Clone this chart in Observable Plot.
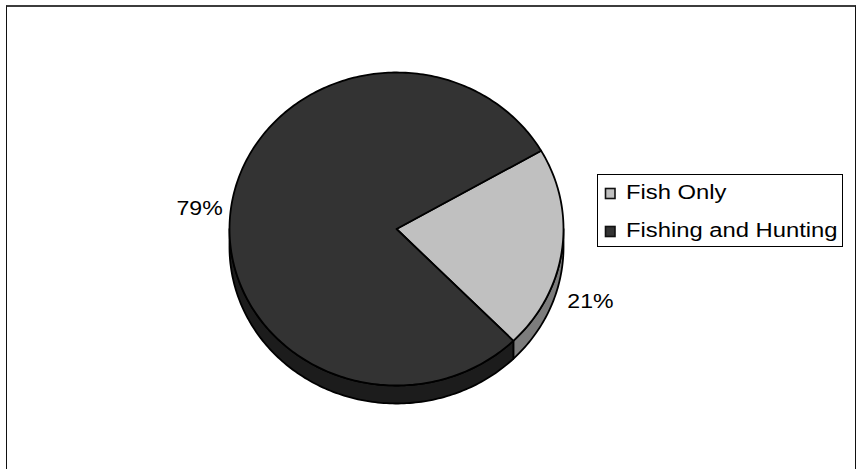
<!DOCTYPE html>
<html><head><meta charset="utf-8">
<script src="https://cdn.jsdelivr.net/npm/d3@7"></script>
<script src="https://cdn.jsdelivr.net/npm/@observablehq/plot@0.6"></script>
<style>
body{margin:0;background:#fff;font-family:"Liberation Sans",Arial,sans-serif;}
#wrap{position:relative;width:862px;height:469px;overflow:hidden;background:#fff;}
#chart{position:absolute;left:0;top:0;}
#frame{position:absolute;left:6px;top:5px;width:848px;height:520px;border-top:2px solid #3c3c3c;border-left:1.5px solid #111;border-right:1.5px solid #111;pointer-events:none;}
#legend{position:absolute;left:597px;top:174px;overflow:visible;}
</style></head><body>
<div id="wrap"><div id="chart"></div><div id="frame"></div><svg id="legend" width="250" height="78"></svg></div>
<script>
// ---- data ----
const categories = ["Fish Only", "Fishing and Hunting"];
const values = [21, 79];
const labels = ["21%", "79%"];
const topColors = ["#c0c0c0", "#333333"];
const sideColors = ["#7c7c7c", "#1c1c1c"];

// ---- geometry (pie plane units; radius 1) ----
const startAngle = 60;   // degrees clockwise from 12 o'clock
const depth = 0.115;     // thickness of the 3D pie in y units
const rad = d => d * Math.PI / 180;
const total = d3.sum(values);

const slices = [];
let a = startAngle;
values.forEach((v, i) => {
  const a1 = a + v / total * 360;
  slices.push({i, a0: a, a1, mid: (a + a1) / 2});
  a = a1;
});

const pt = (deg, r, h) => ({x: r * Math.sin(rad(deg)), y: r * Math.cos(rad(deg)) + h});
const arc = (from, to, h) => {
  const n = Math.max(2, Math.ceil(Math.abs(to - from)));
  return d3.range(n + 1).map(k => pt(from + (to - from) * k / n, 1, h));
};

const faces = [];
// side walls (front half: 90°..270°)
slices.forEach(s => {
  const lo = Math.max(s.a0, 90), hi = Math.min(s.a1, 270);
  if (hi > lo) {
    const pts = [...arc(lo, hi, 0), ...arc(hi, lo, -depth)];
    pts.push(pts[0]);
    pts.forEach(p => faces.push({...p, id: "side" + s.i, fill: sideColors[s.i]}));
  }
});
// top faces
slices.forEach(s => {
  const pts = [{x: 0, y: 0}, ...arc(s.a0, s.a1, 0), {x: 0, y: 0}];
  pts.forEach(p => faces.push({...p, id: "top" + s.i, fill: topColors[s.i]}));
});

const labelData = slices.map(s => ({...pt(s.mid, 1.19, 0), text: labels[s.i], i: s.i}));

const chart = Plot.plot({
  width: 862, height: 469,
  margin: 0,
  x: {domain: [-1, 1], range: [229, 563], axis: null},
  y: {domain: [-1, 1], range: [385, 72], axis: null},
  color: {type: "identity"},
  style: {background: "transparent", fontFamily: "'Liberation Sans', Arial, sans-serif"},
  marks: [
    Plot.line(faces, {x: "x", y: "y", z: "id", fill: "fill", stroke: "#000", strokeWidth: 1.8, strokeLinejoin: "round", curve: "linear"}),
    Plot.text(labelData.filter(d => d.i === 1), {x: "x", y: "y", text: "text", fontSize: 21, fill: "#000", dy: 5}),
    Plot.text(labelData.filter(d => d.i === 0), {x: "x", y: "y", text: "text", fontSize: 21, fill: "#000", dy: 47, dx: -3})
  ]
});
document.getElementById("chart").appendChild(chart);
// horizontal stretch of label glyphs to match the reference
chart.querySelectorAll("text").forEach(t => {
  const tr = t.getAttribute("transform");
  if (tr) t.setAttribute("transform", tr + " scale(1.1,1)");
});

// ---- legend ----
const lg = d3.select("#legend");
lg.append("rect").attr("x", 0.5).attr("y", 0.5).attr("width", 245).attr("height", 72)
  .attr("fill", "#fff").attr("stroke", "#000").attr("stroke-width", 1);
const rows = [25, 63];
categories.forEach((c, i) => {
  lg.append("rect").attr("x", 8.5).attr("y", rows[i] - 10.5).attr("width", 9.5).attr("height", 10)
    .attr("fill", topColors[i]).attr("stroke", "#111").attr("stroke-width", 1.6);
  lg.append("text").attr("transform", `translate(29,${rows[i]}) scale(1.19,1)`)
    .attr("font-size", 20).attr("font-family", "'Liberation Sans', Arial, sans-serif")
    .attr("fill", "#000").text(c);
});
</script>
</body></html>
